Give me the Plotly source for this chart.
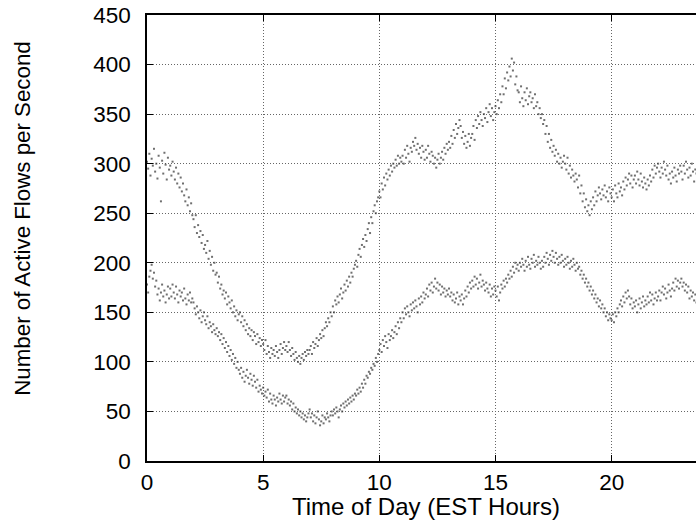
import numpy as np
import plotly.graph_objects as go

# Time of day (hours), sampled every 3 minutes
hours = np.arange(0, 24, 0.05)

# Upper series (20 samples per hour, row per hour)
upper_flows = [
    302, 295, 310, 288, 305, 298, 315, 292, 300, 285, 308, 296, 262, 303, 290, 311, 299, 284, 306, 294,
    298, 288, 302, 292, 284, 296, 280, 290, 276, 286, 272, 280, 268, 262, 274, 258, 266, 252, 260, 248,
    244, 236, 248, 230, 238, 226, 232, 220, 228, 214, 218, 210, 222, 204, 212, 198, 206, 192, 200, 188,
    190, 180, 186, 174, 178, 168, 172, 164, 170, 158, 166, 160, 154, 162, 150, 156, 146, 152, 142, 148,
    150, 140, 146, 136, 142, 132, 138, 128, 134, 126, 132, 122, 130, 126, 118, 128, 120, 124, 116, 122,
    118, 112, 122, 108, 116, 110, 104, 114, 108, 112, 106, 116, 110, 104, 112, 118, 108, 114, 120, 112,
    116, 110, 120, 112, 106, 114, 108, 102, 110, 104, 100, 106, 98, 104, 108, 102, 110, 106, 112, 108,
    112, 116, 108, 120, 114, 118, 124, 116, 122, 128, 124, 132, 126, 134, 140, 136, 144, 140, 150, 146,
    156, 150, 162, 158, 166, 160, 168, 174, 164, 170, 178, 172, 182, 176, 186, 180, 190, 186, 194, 198,
    202, 196, 208, 214, 206, 218, 224, 216, 228, 222, 234, 240, 230, 246, 240, 252, 258, 250, 262, 266,
    272, 266, 280, 274, 286, 278, 290, 284, 294, 288, 298, 292, 300, 296, 304, 298, 308, 300, 306, 302,
    308, 300, 314, 306, 318, 310, 302, 316, 312, 322, 318, 326, 314, 320, 310, 316, 306, 318, 312, 304,
    314, 306, 318, 310, 302, 312, 308, 300, 306, 296, 304, 310, 300, 306, 312, 304, 316, 310, 320, 314,
    322, 316, 328, 320, 334, 326, 340, 330, 336, 344, 338, 326, 332, 320, 328, 316, 322, 330, 318, 326,
    330, 338, 324, 344, 336, 348, 340, 352, 344, 338, 350, 346, 356, 342, 352, 360, 348, 356, 344, 352,
    358, 350, 364, 356, 370, 362, 378, 370, 386, 376, 392, 384, 398, 388, 406, 394, 402, 380, 388, 374,
    372, 362, 378, 366, 358, 372, 364, 376, 360, 368, 372, 362, 366, 356, 370, 358, 362, 350, 356, 346,
    350, 340, 344, 330, 338, 322, 330, 316, 324, 312, 318, 308, 314, 302, 310, 300, 306, 296, 302, 308,
    300, 294, 306, 290, 298, 286, 294, 288, 282, 290, 284, 276, 288, 270, 278, 262, 270, 256, 264, 252,
    258, 248, 262, 254, 266, 258, 272, 262, 268, 276, 270, 264, 274, 268, 278, 266, 272, 262, 276, 270,
    266, 274, 262, 278, 270, 266, 280, 272, 276, 268, 282, 274, 286, 278, 284, 290, 280, 288, 276, 284,
    288, 280, 292, 284, 278, 290, 282, 276, 286, 280, 274, 284, 278, 288, 282, 294, 286, 298, 290, 296,
    300, 292, 286, 296, 290, 302, 294, 288, 298, 284, 290, 280, 292, 286, 296, 288, 282, 294, 290, 298,
    292, 284, 298, 290, 302, 294, 286, 296, 288, 300, 292, 282, 294, 290, 298, 286, 292, 300, 288, 294,
]

# Lower series
lower_flows = [
    178, 170, 186, 192, 198, 184, 190, 176, 182, 168, 174, 162, 170, 178, 166, 172, 160, 168, 176, 164,
    174, 166, 178, 170, 164, 176, 168, 160, 172, 166, 170, 162, 174, 164, 158, 168, 162, 170, 160, 164,
    160, 154, 148, 156, 150, 144, 152, 140, 146, 150, 142, 138, 146, 134, 140, 136, 130, 138, 132, 128,
    134, 126, 130, 122, 128, 118, 124, 114, 120, 110, 116, 106, 112, 102, 108, 98, 104, 94, 100, 92,
    88, 94, 84, 90, 80, 86, 92, 84, 78, 88, 82, 76, 86, 80, 74, 82, 70, 76, 72, 68,
    74, 66, 70, 64, 72, 60, 68, 62, 58, 66, 62, 56, 64, 60, 68, 62, 58, 66, 60, 64,
    66, 58, 62, 56, 60, 52, 58, 50, 54, 48, 52, 46, 50, 44, 48, 42, 46, 40, 44, 48,
    52, 44, 48, 40, 46, 38, 44, 50, 42, 36, 40, 46, 38, 44, 42, 48, 44, 40, 46, 50,
    46, 52, 48, 54, 50, 44, 52, 56, 50, 58, 54, 60, 56, 62, 58, 64, 60, 66, 62, 68,
    66, 72, 68, 74, 70, 78, 74, 82, 78, 86, 84, 90, 88, 94, 92, 98, 96, 104, 100, 108,
    112, 118, 110, 122, 116, 126, 120, 114, 128, 122, 126, 132, 124, 130, 136, 128, 140, 134, 144, 140,
    150, 144, 154, 148, 156, 150, 146, 158, 152, 160, 154, 162, 156, 150, 164, 158, 166, 160, 170, 164,
    168, 174, 166, 178, 172, 180, 170, 176, 184, 174, 180, 172, 178, 168, 176, 170, 174, 166, 172, 168,
    174, 166, 170, 162, 168, 160, 164, 170, 158, 166, 162, 168, 158, 164, 172, 166, 176, 170, 180, 174,
    182, 176, 186, 178, 184, 174, 180, 188, 176, 182, 178, 172, 180, 174, 170, 178, 166, 174, 168, 176,
    172, 166, 176, 162, 170, 178, 174, 182, 176, 184, 180, 188, 184, 192, 186, 196, 190, 200, 194, 198,
    192, 200, 196, 204, 198, 192, 202, 196, 206, 198, 194, 204, 200, 208, 196, 202, 198, 206, 200, 194,
    202, 196, 206, 200, 210, 204, 198, 208, 202, 212, 206, 200, 210, 204, 198, 206, 200, 208, 202, 196,
    204, 198, 206, 200, 194, 202, 196, 204, 198, 192, 200, 194, 196, 188, 192, 184, 188, 180, 184, 176,
    180, 172, 176, 168, 172, 164, 168, 160, 164, 156, 162, 154, 158, 150, 154, 146, 150, 142, 148, 144,
    142, 148, 140, 150, 146, 154, 150, 158, 162, 156, 166, 160, 170, 164, 172, 166, 158, 164, 154, 160,
    156, 162, 150, 158, 164, 154, 160, 166, 156, 162, 158, 166, 160, 170, 162, 168, 158, 164, 170, 162,
    166, 172, 162, 170, 176, 168, 174, 164, 170, 178, 172, 166, 174, 180, 172, 184, 176, 182, 174, 180,
    184, 176, 180, 172, 178, 170, 176, 164, 172, 166, 170, 162, 168, 160, 166, 172, 164, 168, 160, 166,
]

x_ticks = [0, 5, 10, 15, 20]
y_ticks = [0, 50, 100, 150, 200, 250, 300, 350, 400, 450]

FONT = "Liberation Sans, Arial, Helvetica, sans-serif"

fig = go.Figure()
for ys in (upper_flows, lower_flows):
    fig.add_trace(go.Scatter(
        x=hours, y=ys, mode="markers",
        marker=dict(size=2, symbol="square", color="rgba(50,50,50,0.7)", line=dict(width=0)),
        showlegend=False, hoverinfo="skip",
    ))

axis_common = dict(
    showline=True, linecolor="black", linewidth=1.5,
    ticks="inside", ticklen=6, tickcolor="black", tickwidth=1,
    showgrid=True, gridcolor="#666", griddash="1px,2px", gridwidth=1,
    zeroline=False,
    tickfont=dict(family=FONT, size=22.5, color="black"),
)

fig.update_xaxes(range=[0, 23.63], tickvals=x_ticks, mirror="allticks", **axis_common)
fig.update_yaxes(range=[0, 450], tickvals=y_ticks, mirror=False, ticklabelstandoff=10, **axis_common)

fig.update_layout(
    width=696, height=525,
    margin=dict(l=147, r=0, t=15, b=64, pad=0),
    plot_bgcolor="white", paper_bgcolor="white",
    font=dict(family=FONT, color="black"),
    annotations=[
        dict(text="Number of Active Flows per Second", xref="paper", yref="paper",
             x=-0.226, y=0.543, xanchor="center", yanchor="middle", textangle=-90,
             showarrow=False, font=dict(family=FONT, size=22.3, color="black")),
        dict(text="Time of Day (EST Hours)", xref="paper", yref="paper",
             x=0.508, y=-0.101, xanchor="center", yanchor="middle",
             showarrow=False, font=dict(family=FONT, size=24, color="black")),
    ],
)

fig.write_html("out.html")
